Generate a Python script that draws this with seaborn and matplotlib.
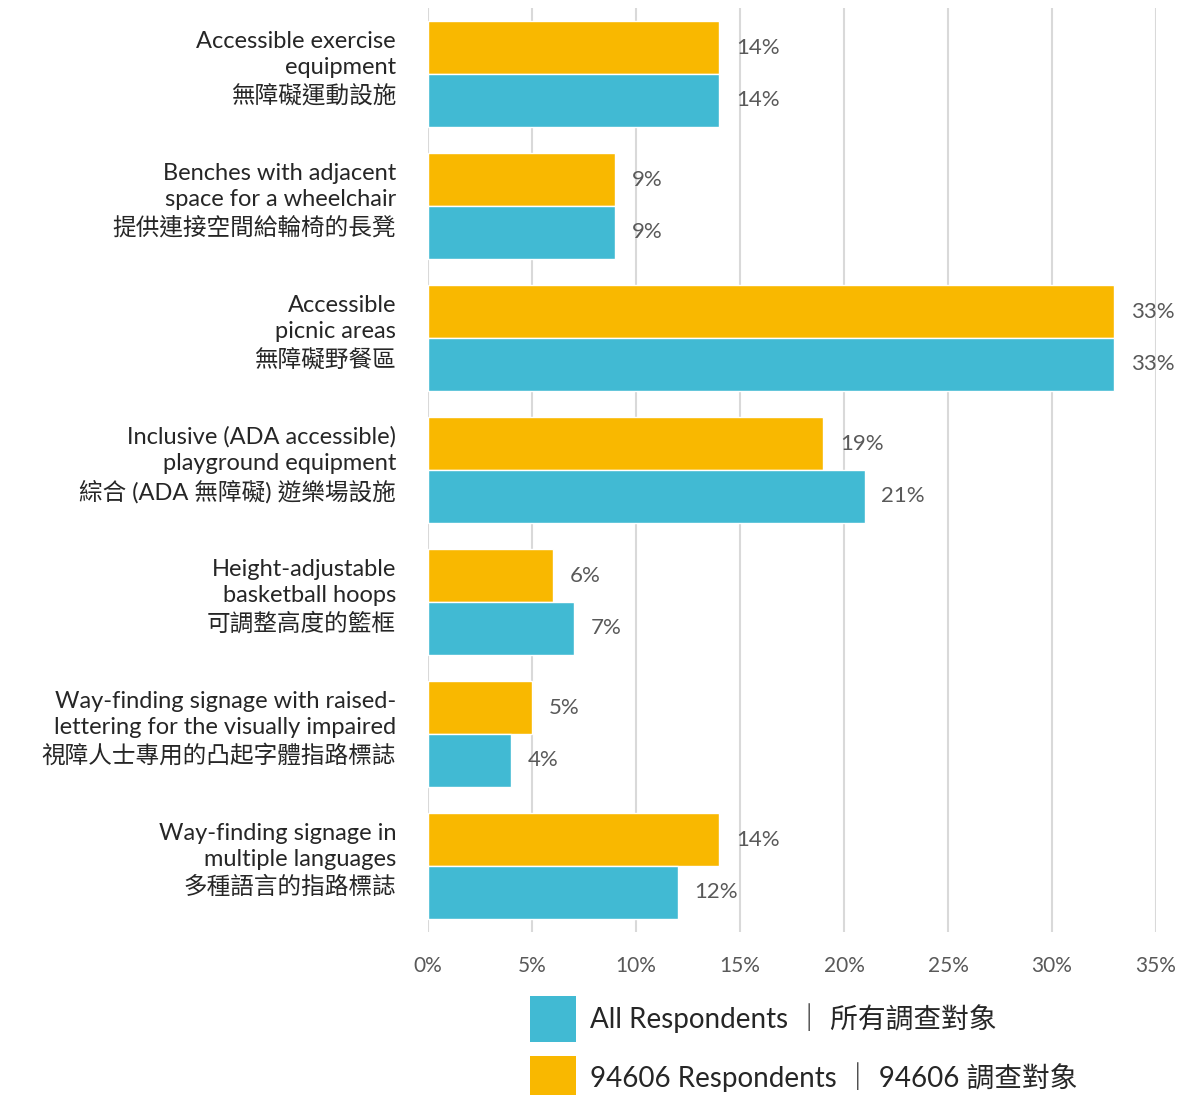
import pandas as pd
import seaborn as sns
import matplotlib.pyplot as plt
from matplotlib.patches import Patch
from matplotlib.transforms import ScaledTranslation

# data
categories = [
    "Accessible exercise\nequipment\n無障礙運動設施",
    "Benches with adjacent\nspace for a wheelchair\n提供連接空間給輪椅的長凳",
    "Accessible\npicnic areas\n無障礙野餐區",
    "Inclusive (ADA accessible)\nplayground equipment\n綜合 (ADA 無障礙) 遊樂場設施",
    "Height-adjustable\nbasketball hoops\n可調整高度的籃框",
    "Way-finding signage with raised-\nlettering for the visually impaired\n視障人士專用的凸起字體指路標誌",
    "Way-finding signage in\nmultiple languages\n多種語言的指路標誌",
]
zip_pct = [14, 9, 33, 19, 6, 5, 14]
all_pct = [14, 9, 33, 21, 7, 4, 12]
series_all = "All Respondents ｜ 所有調查對象"
series_zip = "94606 Respondents ｜ 94606 調查對象"
x_ticks = [0, 5, 10, 15, 20, 25, 30, 35]

teal = "#41BAD3"
orange = "#F9B800"

df = pd.DataFrame({
    "item": categories * 2,
    "pct": zip_pct + all_pct,
    "group": [series_zip] * len(categories) + [series_all] * len(categories),
})

sns.set_style("white")
plt.rcParams["font.family"] = ["Lato", "Noto Sans CJK TC", "DejaVu Sans"]

fig = plt.figure(figsize=(11.96, 10.95), dpi=100)
ax = fig.add_axes([428 / 1196, 1 - 932 / 1095, (1156 - 428) / 1196, 924 / 1095])

sns.barplot(data=df, x="pct", y="item", hue="group", orient="h",
            hue_order=[series_zip, series_all],
            palette=[orange, teal], width=0.8, saturation=1,
            legend=False, ax=ax, zorder=3)

for c in ax.containers:
    ax.bar_label(c, labels=[f"{int(v)}%" for v in c.datavalues],
                 padding=12, fontsize=16, color="#595959")

ax.set_xlim(0, 35)
ax.set_ylim(6.5, -0.5)
ax.set_xticks(x_ticks)
ax.set_xticklabels([f"{t}%" for t in x_ticks])
ax.grid(axis="x", color="#D9D9D9", linewidth=1.5, zorder=0)
ax.set_axisbelow(True)
for s in ax.spines.values():
    s.set_visible(False)
ax.tick_params(axis="x", length=0, pad=17, labelsize=15, labelcolor="#595959")
ax.tick_params(axis="y", length=0, pad=23, labelsize=17, labelcolor="#262626")
ax.set_xlabel("")
ax.set_ylabel("")

# the labels sit a little above the middle of each bar pair
shift = ScaledTranslation(0, 10 / 100, fig.dpi_scale_trans)
for lab in ax.get_yticklabels():
    lab.set_linespacing(1.3)
    lab.set_transform(lab.get_transform() + shift)

handles = [Patch(facecolor=teal, edgecolor="none"),
           Patch(facecolor=orange, edgecolor="none")]
fig.legend(handles, [series_all, series_zip],
           loc="upper left", bbox_to_anchor=(530 / 1196, 1 - 996 / 1095),
           frameon=False, fontsize=20, handlelength=1.65, handleheight=2.15,
           handletextpad=0.5, labelspacing=0.5, borderaxespad=0, borderpad=0)

fig.savefig("out.png", dpi=100)
